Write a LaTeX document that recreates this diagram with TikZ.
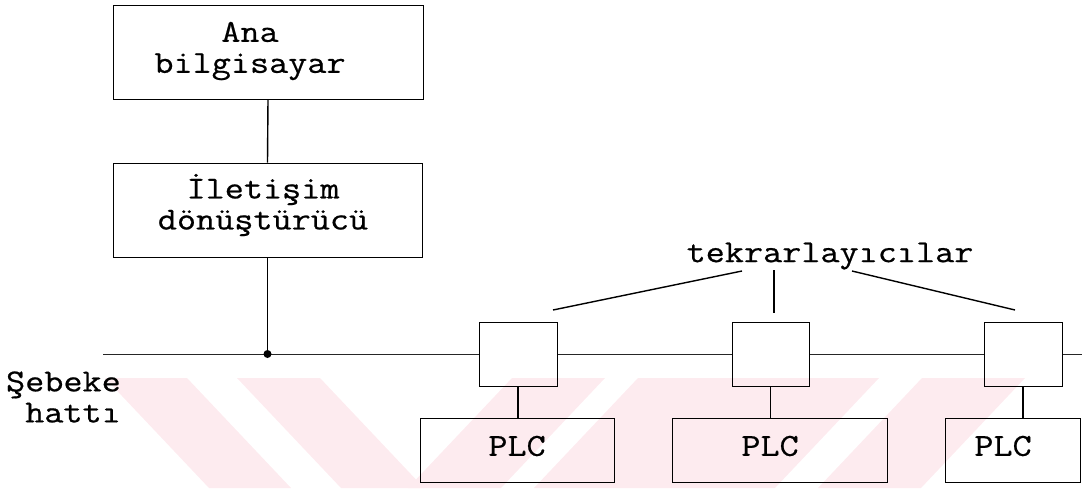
\documentclass[tikz,border=0pt]{standalone}
\usepackage{fontspec}
\newfontfamily\tw[FakeStretch=1.16,FakeBold=0.6]{Latin Modern Mono}
\definecolor{wm}{RGB}{253,235,239}
\begin{document}
\begin{tikzpicture}[x=1pt,y=-1pt,
  box/.style={draw, line width=1pt, inner sep=0pt},
  lbl/.style={font=\tw\fontsize{32}{31}\selectfont, align=center, inner sep=0pt},
  wire/.style={line width=1.4pt},
  bus/.style={line width=0.8pt, black!85}]
\useasboundingbox (0,0) rectangle (1082,488);
% watermark
\fill[wm] (105,378) -- (187,378) -- (291,488) -- (209,488) -- cycle;
\fill[wm] (237,378) -- (320,378) -- (424,488) -- (341,488) -- cycle;
\fill[wm] (512,378) -- (605,378) -- (501,488) -- (408,488) -- cycle;
\fill[wm] (638,378) -- (879,378) -- (775,488) -- (534,488) -- cycle;
\fill[wm] (922,378) -- (1025,378) -- (921,488) -- (818,488) -- cycle;
% boxes
\node[box, minimum width=310pt, minimum height=94pt] (ana) at (268,52) {};
\node[lbl] (anat) at (250,51) {Ana\\bilgisayar};
\node[box, minimum width=309pt, minimum height=94pt] (ilet) at (267.5,210) {};
\node[lbl] (iletl) at (263,205) {İletişim\\dönüştürücü};
\node[box, minimum width=78pt, minimum height=64pt] (r1) at (518,354) {};
\node[box, minimum width=77pt, minimum height=64pt] (r2) at (770.5,354) {};
\node[box, minimum width=78pt, minimum height=64pt] (r3) at (1023,354) {};
\node[box, minimum width=194pt, minimum height=64pt] (p1) at (517,450) {};
\node[box, minimum width=215pt, minimum height=64pt] (p2) at (779.5,450) {};
\node[box, minimum width=135pt, minimum height=64pt] (p3) at (1012.5,450) {};
\node[lbl] (p1t) at (517,446) {PLC};
\node[lbl] (p2t) at (770,446) {PLC};
\node[lbl] (p3t) at (1003,446) {PLC};
% labels
\node[lbl] (tek) at (830,256) {tekrarlayıcılar};
\node[lbl, align=right, anchor=east] (seb) at (121,397) {Şebeke\\hattı};
% bus
\coordinate (busL) at (103,354);
\coordinate (busR) at (1082,354);
\coordinate (tap) at (ilet.south |- busL);
\draw[bus] (busL) -- (r1.west) (r1.east) -- (r2.west) (r2.east) -- (r3.west) (r3.east) -- (busR);
\draw[wire] (ana.south) -- (ilet.north);
\draw[wire] (ilet.south) -- (tap);
\fill (tap) circle[radius=4];
% repeaters to PLCs
\draw[wire] (r1.south) -- (r1.south |- p1.north);
\draw[wire] (r2.south) -- (r2.south |- p2.north);
\draw[wire] (r3.south) -- (r3.south |- p3.north);
% leaders
\coordinate (l1a) at (742,271); \coordinate (l1b) at (553,310);
\coordinate (l2a) at (774,270); \coordinate (l2b) at (774,313);
\coordinate (l3a) at (852,271); \coordinate (l3b) at (1015,310);
\draw[wire] (l1a) -- (l1b);
\draw[wire] (l2a) -- (l2b);
\draw[wire] (l3a) -- (l3b);
\end{tikzpicture}
\end{document}
